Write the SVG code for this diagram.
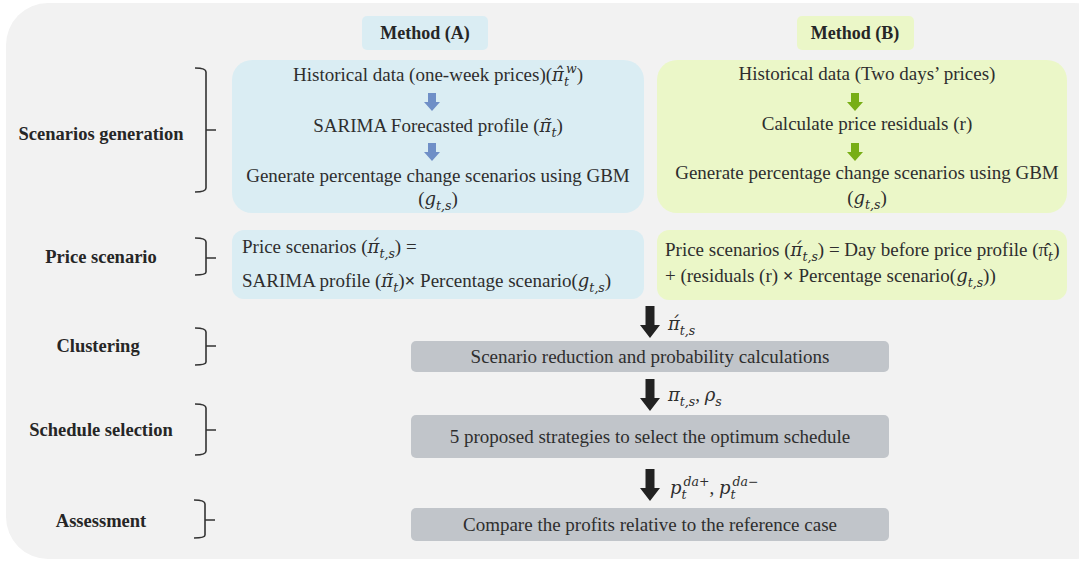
<svg xmlns="http://www.w3.org/2000/svg" width="1079" height="562" viewBox="0 0 1079 562">
<style>
.t{font-family:'Liberation Serif',serif;font-size:19px;fill:#2e2e2e}
.m{font-family:'DejaVu Serif',serif;font-style:italic;font-size:18px}
.s{font-family:'DejaVu Serif',serif;font-style:italic;font-size:12.5px}
.lbl{font-family:'Liberation Serif',serif;font-size:18.5px;font-weight:bold;fill:#262626}
.hd{font-family:'Liberation Serif',serif;font-size:18px;font-weight:bold;fill:#262626}
.blue{fill:#daedf3}
.green{fill:#ebf7c8}
.gray{fill:#c1c5ca}
.br{fill:none;stroke:#333;stroke-width:1.6}
.ba{fill:#6f8fc7}
.ga{fill:#78ae16}
.ka{fill:#222}
</style>
<defs>
<path id="sarrow" d="M-4,0 H4 V9 H8 L0,18 L-8,9 H-4 Z"/>
<path id="karrow" d="M-4.5,0 H4.5 V19 H10 L0,32 L-10,19 H-4.5 Z"/>
</defs>
<rect x="0" y="0" width="1079" height="562" fill="#ffffff"/>
<rect x="6" y="3" width="1110" height="556" rx="42" fill="#f2f2f2"/>

<g id="headerA"><rect x="362" y="16" width="126" height="34" rx="5" class="blue"/><text x="425" y="39" class="hd" text-anchor="middle">Method (A)</text></g>
<g id="headerB"><rect x="797" y="16" width="117" height="34" rx="5" class="green"/><text x="855" y="39" class="hd" text-anchor="middle">Method (B)</text></g>

<g id="labels">
<g id="lab-scen"><text x="101" y="140" class="lbl" text-anchor="middle">Scenarios generation</text>
<path class="br" d="M195,68 Q206,68 206,72 V130 H216 M206,130 V188 Q206,192 195,192"/></g>
<g id="lab-price"><text x="101" y="263" class="lbl" text-anchor="middle">Price scenario</text>
<path class="br" d="M195,238 Q206,238 206,242 V258 H216 M206,258 V272 Q206,275 195,275"/></g>
<g id="lab-clus"><text x="98" y="352" class="lbl" text-anchor="middle">Clustering</text>
<path class="br" d="M195,328 Q206,328 206,332 V346 H216 M206,346 V362 Q206,365 195,365"/></g>
<g id="lab-sched"><text x="101" y="436" class="lbl" text-anchor="middle">Schedule selection</text>
<path class="br" d="M195,404 Q206,404 206,408 V430 H216 M206,430 V451 Q206,455 195,455"/></g>
<g id="lab-assess"><text x="101" y="527" class="lbl" text-anchor="middle">Assessment</text>
<path class="br" d="M194,500 Q205,500 205,504 V520 H215 M205,520 V535 Q205,538 194,538"/></g>
</g>

<g id="boxA1">
<rect x="232" y="60" width="412" height="153" rx="20" class="blue"/>
<text x="438" y="81" class="t" text-anchor="middle">Historical data (one-week prices)(<tspan class="m">π̂</tspan><tspan class="s" dy="5">t</tspan><tspan class="s" dx="-3" dy="-13">w</tspan><tspan dy="8">)</tspan></text>
<use href="#sarrow" x="432" y="93" class="ba"/>
<text x="438" y="132" class="t" text-anchor="middle">SARIMA Forecasted profile (<tspan class="m">π̃</tspan><tspan class="s" dy="5">t</tspan><tspan dy="-5">)</tspan></text>
<use href="#sarrow" x="432" y="143" class="ba"/>
<text x="438" y="182" class="t" text-anchor="middle">Generate percentage change scenarios using GBM</text>
<text x="438" y="205" class="t" text-anchor="middle">(<tspan class="m">g</tspan><tspan class="s" dy="5">t,s</tspan><tspan dy="-5">)</tspan></text>
</g>

<g id="boxB1">
<rect x="657" y="60" width="410" height="153" rx="20" class="green"/>
<text x="867" y="80" class="t" text-anchor="middle">Historical data (Two days’ prices)</text>
<use href="#sarrow" x="855" y="93" class="ga"/>
<text x="867" y="130" class="t" text-anchor="middle">Calculate price residuals (r)</text>
<use href="#sarrow" x="855" y="143" class="ga"/>
<text x="867" y="179" class="t" text-anchor="middle">Generate percentage change scenarios using GBM</text>
<text x="867" y="204" class="t" text-anchor="middle">(<tspan class="m">g</tspan><tspan class="s" dy="5">t,s</tspan><tspan dy="-5">)</tspan></text>
</g>

<g id="boxA2">
<rect x="232" y="230" width="412" height="69" rx="12" class="blue"/>
<text x="242" y="253" class="t">Price scenarios (<tspan class="m">π́</tspan><tspan class="s" dy="5">t,s</tspan><tspan dy="-5">) =</tspan></text>
<text x="242" y="287" class="t">SARIMA profile (<tspan class="m">π̃</tspan><tspan class="s" dy="5">t</tspan><tspan dy="-5">)<tspan font-weight="bold">×</tspan> Percentage scenario(</tspan><tspan class="m">g</tspan><tspan class="s" dy="5">t,s</tspan><tspan dy="-5">)</tspan></text>
</g>

<g id="boxB2">
<rect x="657" y="230" width="410" height="70" rx="12" class="green"/>
<text x="665" y="256" class="t">Price scenarios (<tspan class="m">π́</tspan><tspan class="s" dy="5">t,s</tspan><tspan dy="-5">) = Day before price profile (π̂</tspan><tspan class="s" dy="5">t</tspan><tspan dy="-5">)</tspan></text>
<text x="665" y="282" class="t">+ (residuals (r) <tspan font-weight="bold">×</tspan> Percentage scenario(<tspan class="m">g</tspan><tspan class="s" dy="5">t,s</tspan><tspan dy="-5">))</tspan></text>
</g>

<g id="boxC1">
<rect x="411" y="341" width="478" height="31" rx="5" class="gray"/>
<text x="650" y="363" class="t" text-anchor="middle">Scenario reduction and probability calculations</text>
</g>
<g id="boxC2">
<rect x="411" y="415" width="478" height="43" rx="5" class="gray"/>
<text x="650" y="443" class="t" text-anchor="middle">5 proposed strategies to select the optimum schedule</text>
</g>
<g id="boxC3">
<rect x="411" y="508" width="478" height="33" rx="5" class="gray"/>
<text x="650" y="531" class="t" text-anchor="middle">Compare the profits relative to the reference case</text>
</g>

<g id="connectors">
<use href="#karrow" x="650" y="306" class="ka"/>
<text x="668" y="330" class="t"><tspan class="m">π́</tspan><tspan class="s" dy="5">t,s</tspan></text>
<use href="#karrow" x="650" y="379" class="ka"/>
<text x="668" y="401" class="t"><tspan class="m">π</tspan><tspan class="s" dy="5">t,s</tspan><tspan dy="-5">, </tspan><tspan class="m">ρ</tspan><tspan class="s" dy="5">s</tspan></text>
<use href="#karrow" x="650" y="469" class="ka"/>
<text x="670" y="494" class="t"><tspan class="m">p</tspan><tspan class="s" dy="5">t</tspan><tspan class="s" dx="-3" dy="-13">da+</tspan><tspan dy="8">, </tspan><tspan class="m">p</tspan><tspan class="s" dy="5">t</tspan><tspan class="s" dx="-3" dy="-13">da−</tspan></text>
</g>
</svg>
